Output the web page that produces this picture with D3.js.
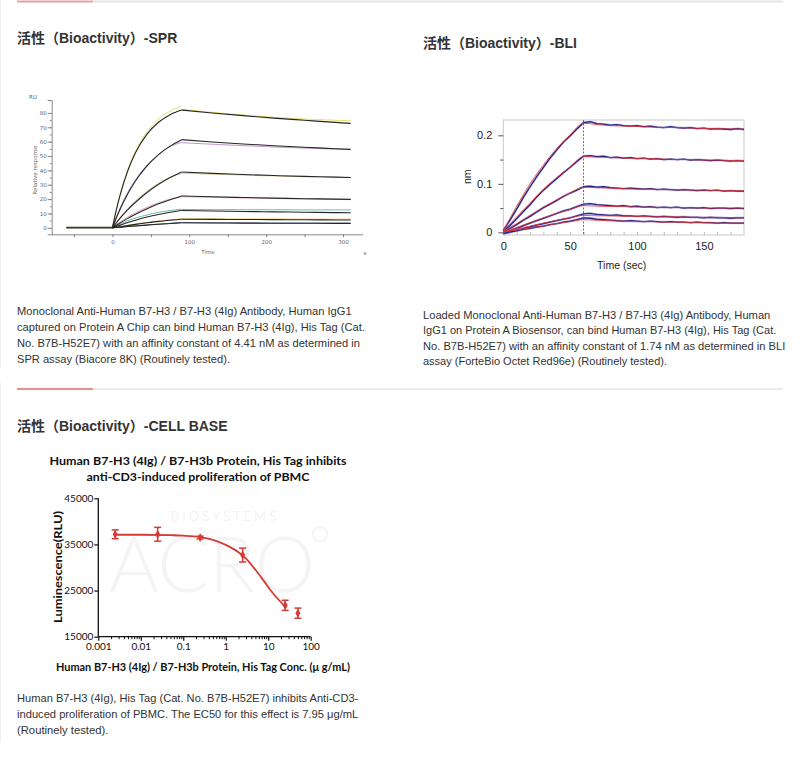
<!DOCTYPE html>
<meta charset="utf-8">
<html>
<head>
  <script src="https://d3js.org/d3.v7.min.js" charset="utf-8"></script>
</head>
<style>
body { margin: 0; background: white; }
.title { font-family: "Liberation Sans", "Noto Sans CJK SC", sans-serif; font-weight: bold; font-size: 14px; fill: #333; }
.desc { font-family: "Liberation Sans", Arial, sans-serif; font-size: 11.3px; fill: #333; }
.spr text { font-family: "DejaVu Sans", sans-serif; font-size: 5.5px; fill: #666; }
.bli text { font-family: "Liberation Sans", Arial, sans-serif; font-size: 11px; fill: #222; }
.cell text { font-family: Lato, "Open Sans", sans-serif; fill: #111; }
.cell text.wm { fill: #f4f4f4; }
</style>
<body>
<div id="container"></div>
<script>

var width = 800, height = 761;

// ---- SPR data (RU) ----
var sprOnTime = [0, 5, 10, 20, 30, 45, 60, 75, 90];
var sprOffTime = [90, 130, 170, 210, 250, 290, 310];
var sprFitOn = [
  [0, 12.3, 22.8, 39.7, 52.2, 65.2, 73.5, 78.8, 82.0],
  [0, 6.8, 13.0, 23.7, 32.6, 43.1, 51.0, 56.9, 61.4],
  [0, 3.4, 6.7, 12.6, 17.8, 24.6, 30.3, 35.0, 38.9],
  [0, 1.8, 3.4, 6.6, 9.5, 13.3, 16.7, 19.6, 22.2],
  [0, 1.0, 1.9, 3.7, 5.3, 7.5, 9.3, 10.8, 12.1],
  [0, 0.4, 0.8, 1.6, 2.4, 3.5, 4.5, 5.3, 6.0],
  [0, 0.2, 0.4, 0.9, 1.3, 1.9, 2.5, 3.0, 3.5]
];
var sprFitOff = [
  [82.0, 80.0, 78.1, 76.4, 74.9, 73.4, 72.7],
  [61.4, 59.8, 58.4, 57.2, 56.1, 55.1, 54.6],
  [38.9, 37.9, 37.1, 36.4, 35.8, 35.3, 35.0],
  [22.2, 21.6, 21.1, 20.7, 20.3, 20.0, 19.8],
  [12.1, 11.7, 11.4, 11.1, 10.9, 10.6, 10.5],
  [6.0, 5.9, 5.8, 5.7, 5.6, 5.5, 5.5],
  [3.5, 3.4, 3.3, 3.2, 3.2, 3.1, 3.1]
];
var sprRawOn = [
  [0.3, 12.8, 23.5, 40.5, 53.5, 66.8, 75.8, 81.2, 85.0],
  [0.3, 7.2, 13.8, 24.8, 33.5, 43.5, 51.0, 56.5, 59.5],
  [0.3, 3.8, 7.3, 13.5, 18.8, 25.5, 31.0, 35.2, 38.0],
  [0.3, 2.2, 4.0, 7.5, 10.5, 14.3, 17.5, 20.0, 21.7],
  [0.3, 1.5, 2.7, 5.0, 6.8, 9.0, 10.8, 12.0, 13.0],
  [0.3, 0.5, 1.0, 1.8, 2.6, 3.7, 4.7, 5.5, 6.2],
  [0.3, 0.3, 0.5, 1.0, 1.4, 2.0, 2.6, 3.1, 3.6]
];
var sprRawOff = [
  [82.5, 80.4, 78.6, 77.0, 75.8, 74.9, 74.5],
  [59.3, 58.2, 57.2, 56.3, 55.5, 54.8, 54.5],
  [38.0, 37.3, 36.7, 36.1, 35.6, 35.2, 35.0],
  [21.7, 21.2, 20.8, 20.4, 20.1, 19.8, 19.6],
  [12.8, 12.7, 12.6, 12.6, 12.5, 12.5, 12.5],
  [6.2, 6.2, 6.1, 6.1, 6.0, 6.0, 6.0],
  [3.6, 3.5, 3.4, 3.3, 3.3, 3.2, 3.2]
];
var sprRawColors = ["#e6dc5a", "#b58cc8", "#d9cc96", "#e59ab9", "#5cb89a", "#e3b64a", "#4f6f96"];
var sprYTicks = [0, 10, 20, 30, 40, 50, 60, 70, 80];
var sprXTicks = [0, 100, 200, 300];

// ---- BLI data (nm) ----
var bliTime = [0, 10, 20, 30, 40, 50, 60, 70, 80, 90, 100, 110, 120, 130, 140, 150, 160, 170, 180];
var bliFit = [
  [0.003, 0.054, 0.100, 0.139, 0.173, 0.201, 0.225, 0.222, 0.220, 0.219, 0.218, 0.217, 0.216, 0.216, 0.215, 0.214, 0.214, 0.213, 0.213],
  [0.003, 0.032, 0.060, 0.089, 0.113, 0.135, 0.156, 0.155, 0.154, 0.153, 0.152, 0.152, 0.151, 0.150, 0.150, 0.149, 0.149, 0.148, 0.148],
  [0.002, 0.018, 0.035, 0.052, 0.067, 0.081, 0.093, 0.092, 0.091, 0.090, 0.089, 0.089, 0.088, 0.088, 0.087, 0.087, 0.086, 0.086, 0.086],
  [0.002, 0.010, 0.020, 0.030, 0.039, 0.047, 0.055, 0.054, 0.053, 0.053, 0.052, 0.052, 0.051, 0.051, 0.051, 0.050, 0.050, 0.050, 0.050],
  [0.001, 0.007, 0.013, 0.019, 0.025, 0.030, 0.035, 0.034, 0.034, 0.033, 0.033, 0.032, 0.032, 0.032, 0.031, 0.031, 0.031, 0.030, 0.030],
  [0.001, 0.005, 0.009, 0.013, 0.018, 0.022, 0.026, 0.025, 0.024, 0.023, 0.022, 0.022, 0.021, 0.021, 0.020, 0.020, 0.019, 0.019, 0.019]
];
var bliRawTime = [0, 5, 10, 15, 20, 25, 30, 35, 40, 45, 50, 55, 60, 65, 70, 75, 80, 85, 90, 95, 100, 105, 110, 115,
                  120, 125, 130, 135, 140, 145, 150, 155, 160, 165, 170, 175, 180];
var bliRaw = [
  [0.004, 0.025, 0.048, 0.072, 0.094, 0.115, 0.134, 0.153, 0.170, 0.186, 0.199, 0.213, 0.226,
   0.228, 0.224, 0.223, 0.221, 0.222, 0.220, 0.219, 0.220, 0.218, 0.219, 0.217, 0.216, 0.218, 0.216, 0.215, 0.216, 0.214, 0.215, 0.213, 0.214, 0.213, 0.212, 0.214, 0.212],
  [0.001, 0.014, 0.028, 0.043, 0.057, 0.073, 0.087, 0.099, 0.111, 0.123, 0.134, 0.146, 0.157,
   0.158, 0.156, 0.157, 0.154, 0.155, 0.153, 0.154, 0.152, 0.153, 0.151, 0.152, 0.150, 0.151, 0.150, 0.151, 0.149, 0.150, 0.149, 0.148, 0.149, 0.148, 0.147, 0.148, 0.147],
  [0.000, 0.008, 0.016, 0.025, 0.033, 0.042, 0.051, 0.058, 0.066, 0.074, 0.081, 0.087, 0.094,
   0.095, 0.093, 0.094, 0.092, 0.091, 0.090, 0.091, 0.090, 0.089, 0.090, 0.088, 0.089, 0.088, 0.087, 0.088, 0.087, 0.086, 0.087, 0.086, 0.087, 0.085, 0.086, 0.085, 0.085],
  [-0.002, 0.003, 0.008, 0.014, 0.019, 0.024, 0.029, 0.034, 0.039, 0.044, 0.048, 0.053, 0.058,
   0.059, 0.057, 0.056, 0.055, 0.054, 0.055, 0.053, 0.054, 0.052, 0.053, 0.051, 0.052, 0.051, 0.052, 0.050, 0.051, 0.050, 0.051, 0.049, 0.050, 0.050, 0.049, 0.050, 0.049],
  [-0.003, 0.000, 0.004, 0.008, 0.011, 0.015, 0.018, 0.021, 0.024, 0.027, 0.030, 0.034, 0.038,
   0.039, 0.037, 0.036, 0.035, 0.036, 0.034, 0.034, 0.033, 0.034, 0.033, 0.032, 0.033, 0.032, 0.031, 0.032, 0.031, 0.031, 0.030, 0.031, 0.030, 0.030, 0.029, 0.030, 0.030],
  [-0.002, 0.001, 0.003, 0.006, 0.008, 0.011, 0.013, 0.016, 0.018, 0.021, 0.023, 0.026, 0.030,
   0.029, 0.027, 0.026, 0.025, 0.024, 0.023, 0.024, 0.023, 0.022, 0.023, 0.022, 0.021, 0.022, 0.021, 0.021, 0.020, 0.021, 0.020, 0.020, 0.019, 0.020, 0.019, 0.019, 0.019]
];
var bliYTicks = [0, 0.1, 0.2];
var bliXTicks = [0, 50, 100, 150];

// ---- Cell based assay ----
var cellDose = [0.0025, 0.025, 0.25, 2.5, 25, 50];
var cellMean = [37200, 37200, 36500, 32700, 21800, 20100];
var cellErr = [950, 1500, 300, 1500, 1100, 1100];
var cellFitDose = [0.0025, 0.01, 0.05, 0.1, 0.25, 0.5, 1, 2, 3, 5, 8, 12, 18, 27];
var cellFitVal = [37100, 37100, 37000, 36900, 36600, 36000, 34900, 33300, 31900, 29500, 27000, 24800, 22900, 21300];
var cellYTicks = [15000, 25000, 35000, 45000];
var cellXTicks = [0.001, 0.01, 0.1, 1, 10, 100];

var svg = d3.select("#container").append("svg")
  .attr("width", width).attr("height", height)
  .style("background", "white");

// page furniture: separators and titles
function separator(y, redColor, w) {
  svg.append("line").attr("x1", 93).attr("x2", 783).attr("y1", y).attr("y2", y)
     .attr("stroke", "#e4e4e4").attr("stroke-width", w);
  svg.append("line").attr("x1", 17).attr("x2", 93).attr("y1", y).attr("y2", y)
     .attr("stroke", redColor).attr("stroke-width", w);
}
separator(1.5, "#e2a2a2", 2);
separator(389, "#e36a6a", 1.3);
svg.append("line").attr("x1", 0.5).attr("x2", 0.5).attr("y1", 0).attr("y2", 368).attr("stroke", "#eeeeee");
svg.append("line").attr("x1", 0.5).attr("x2", 0.5).attr("y1", 383).attr("y2", 743).attr("stroke", "#eeeeee");

svg.append("text").attr("class", "title").attr("x", 17).attr("y", 43).text("活性（Bioactivity）-SPR");
svg.append("text").attr("class", "title").attr("x", 423).attr("y", 48).text("活性（Bioactivity）-BLI");
svg.append("text").attr("class", "title").attr("x", 17).attr("y", 431).text("活性（Bioactivity）-CELL BASE");

// each line gets the width it has in the picture
function paragraph(lines, widths, x, y0, lh) {
  lines.forEach(function(l, i) {
    svg.append("text").attr("class", "desc").attr("x", x).attr("y", y0 + i * lh)
       .attr("textLength", widths[i]).attr("lengthAdjust", "spacingAndGlyphs").text(l);
  });
}
paragraph([
  "Monoclonal Anti-Human B7-H3 / B7-H3 (4Ig) Antibody, Human IgG1",
  "captured on Protein A Chip can bind Human B7-H3 (4Ig), His Tag (Cat.",
  "No. B7B-H52E7) with an affinity constant of 4.41 nM as determined in",
  "SPR assay (Biacore 8K) (Routinely tested)."
], [334.7, 348, 343, 213], 17, 315, 15.9);
paragraph([
  "Loaded Monoclonal Anti-Human B7-H3 / B7-H3 (4Ig) Antibody, Human",
  "IgG1 on Protein A Biosensor, can bind Human B7-H3 (4Ig), His Tag (Cat.",
  "No. B7B-H52E7) with an affinity constant of 1.74 nM as determined in BLI",
  "assay (ForteBio Octet Red96e) (Routinely tested)."
], [347.3, 353.3, 362.3, 244], 423, 318.5, 15.6);
paragraph([
  "Human B7-H3 (4Ig), His Tag (Cat. No. B7B-H52E7) inhibits Anti-CD3-",
  "induced proliferation of PBMC. The EC50 for this effect is 7.95 μg/mL",
  "(Routinely tested)."
], [341.3, 341.3, 91.3], 17, 702, 16);

// ================= SPR =================
var spr = svg.append("g").attr("class", "spr");
var sx = d3.scaleLinear().domain([-79, 326]).range([51.7, 363]);
var sy = d3.scaleLinear().domain([-4.5, 89]).range([234.3, 100]);

spr.append("g").attr("transform", "translate(51.7,0)")
   .call(d3.axisLeft(sy).tickValues(d3.range(0, 85, 5)).tickSize(2).tickFormat(""))
   .call(function(g) { g.select(".domain").remove(); g.selectAll("line").attr("stroke", "#888"); });
spr.append("g").attr("transform", "translate(51.7,0)")
   .call(d3.axisLeft(sy).tickValues(sprYTicks).tickSize(4).tickPadding(1))
   .call(function(g) {
     g.select(".domain").attr("stroke", "#888");
     g.selectAll("line").attr("stroke", "#888");
     g.selectAll("text").attr("fill", "#666").style("font-size", "5.5px");
   });
spr.append("g").attr("transform", "translate(0,234.3)")
   .call(d3.axisBottom(sx).tickValues([-50, 50, 150, 250]).tickSize(3).tickFormat(""))
   .call(function(g) { g.select(".domain").remove(); g.selectAll("line").attr("stroke", "#888"); });
spr.append("g").attr("transform", "translate(0,234.3)")
   .call(d3.axisBottom(sx).tickValues(sprXTicks).tickSize(3).tickPadding(3))
   .call(function(g) {
     g.select(".domain").attr("stroke", "#888").attr("d", "M51.7,0.5H363");
     g.selectAll("line").attr("stroke", "#888");
     g.selectAll("text").attr("fill", "#666").style("font-size", "5.5px");
   });
spr.append("text").attr("x", 33).attr("y", 99).attr("text-anchor", "middle").text("RU");
spr.append("text").attr("x", 208).attr("y", 254).attr("text-anchor", "middle").text("Time");
spr.append("text").attr("x", 365).attr("y", 255).attr("text-anchor", "middle").text("s");
spr.append("text").attr("transform", "translate(37,170) rotate(-90)").attr("text-anchor", "middle").text("Relative response");

function sprLine(times) {
  return d3.line().x(function(d, i) { return sx(times[i]); }).y(function(d) { return sy(d); }).curve(d3.curveMonotoneX);
}
var baseLine = d3.line().x(function(d) { return sx(d[0]); }).y(function(d) { return sy(d[1]); });

// coloured response curves
sprRawOn.forEach(function(s, i) {
  spr.append("path").attr("d", baseLine([[-60, 0.3], [0, 0.3]])).attr("fill", "none").attr("stroke", sprRawColors[i]).attr("stroke-width", 0.9);
  spr.append("path").attr("d", sprLine(sprOnTime)(s)).attr("fill", "none").attr("stroke", sprRawColors[i]).attr("stroke-width", 0.9);
  spr.append("path").attr("d", sprLine(sprOffTime)(sprRawOff[i])).attr("fill", "none").attr("stroke", sprRawColors[i]).attr("stroke-width", 0.9);
});
// black fitted curves
sprFitOn.forEach(function(s, i) {
  spr.append("path").attr("d", sprLine(sprOnTime)(s)).attr("fill", "none").attr("stroke", "#262626").attr("stroke-width", 1.1);
  spr.append("path").attr("d", sprLine(sprOffTime)(sprFitOff[i])).attr("fill", "none").attr("stroke", "#262626").attr("stroke-width", 1.1);
});
spr.append("path").attr("d", baseLine([[-60, 0], [0, 0]])).attr("fill", "none").attr("stroke", "#222").attr("stroke-width", 1.4);

// ================= BLI =================
var bli = svg.append("g").attr("class", "bli");
var bx = d3.scaleLinear().domain([0, 180]).range([503.3, 744]);
var by = d3.scaleLinear().domain([-0.0055, 0.2316]).range([235, 120]);

bli.append("rect").attr("x", 503.3).attr("y", 120).attr("width", 744 - 503.3).attr("height", 115)
   .attr("fill", "none").attr("stroke", "#c8c8c8");
bli.append("g").attr("transform", "translate(503.3,0)")
   .call(d3.axisLeft(by).tickValues([0.05, 0.15]).tickSize(3).tickFormat(""))
   .call(function(g) { g.select(".domain").remove(); g.selectAll("line").attr("stroke", "#555"); });
bli.append("g").attr("transform", "translate(503.3,0)")
   .call(d3.axisLeft(by).tickValues(bliYTicks).tickSize(5).tickPadding(6).tickFormat(function(d) { return d === 0 ? "0" : d3.format(".1f")(d); }))
   .call(function(g) {
     g.select(".domain").remove();
     g.selectAll("line").attr("stroke", "#555");
     g.selectAll("text").attr("fill", "#222").style("font-size", "11px");
   });
bli.append("g").attr("transform", "translate(0,235)")
   .call(d3.axisTop(bx).tickValues(d3.range(10, 180, 10)).tickSize(3).tickFormat(""))
   .call(function(g) { g.select(".domain").remove(); g.selectAll("line").attr("stroke", "#bbb"); });
bli.append("g").attr("transform", "translate(0,235)")
   .call(d3.axisBottom(bx).tickValues(bliXTicks).tickSize(0).tickPadding(7))
   .call(function(g) {
     g.select(".domain").remove();
     g.selectAll("text").attr("fill", "#222").style("font-size", "11px");
   });
bli.append("text").attr("x", 621.7).attr("y", 269).attr("text-anchor", "middle").style("font-size", "10.5px").text("Time (sec)");
bli.append("text").attr("transform", "translate(471,176.7) rotate(-90)").attr("text-anchor", "middle").style("font-size", "10.5px").text("nm");

var bliRawLine = d3.line().x(function(d, i) { return bx(bliRawTime[i]); }).y(function(d) { return by(d); });
var bliFitLine = d3.line().x(function(d, i) { return bx(bliTime[i]); }).y(function(d) { return by(d); }).curve(d3.curveMonotoneX);
bliRaw.forEach(function(s) {
  bli.append("path").attr("d", bliRawLine(s)).attr("fill", "none").attr("stroke", "#a89ad8").attr("stroke-width", 2.4).attr("opacity", 0.55);
  bli.append("path").attr("d", bliRawLine(s)).attr("fill", "none").attr("stroke", "#22228a").attr("stroke-width", 1.3);
});
bliFit.forEach(function(s) {
  bli.append("path").attr("d", bliFitLine(s)).attr("fill", "none").attr("stroke", "#e8332c").attr("stroke-width", 0.8);
});
bli.append("line").attr("x1", bx(60)).attr("x2", bx(60)).attr("y1", 120).attr("y2", 235)
   .attr("stroke", "#c8302a").attr("stroke-width", 0.9).attr("stroke-dasharray", "2,1.5");

// ================= CELL BASE =================
var cell = svg.append("g").attr("class", "cell");
var cx = d3.scaleLog().domain([0.001, 100]).range([98.3, 310.7]);
var cy = d3.scaleLinear().domain([15000, 45000]).range([636.7, 498.3]);

// faint watermark
cell.append("text").attr("class", "wm").attr("x", 225).attr("y", 521).attr("text-anchor", "middle")
    .style("font-size", "13px").style("letter-spacing", "3px").text("BIOSYSTEMS");
cell.append("text").attr("class", "wm").attr("x", 212).attr("y", 592).attr("text-anchor", "middle")
    .style("font-size", "76px").style("font-weight", "300").text("ACRO");
cell.append("circle").attr("cx", 320).attr("cy", 534).attr("r", 7).attr("fill", "none").attr("stroke", "#f4f4f4").attr("stroke-width", 2);

cell.append("text").attr("x", 198).attr("y", 465).attr("text-anchor", "middle")
    .style("font-size", "12px").style("font-weight", "bold")
    .attr("textLength", 297).attr("lengthAdjust", "spacingAndGlyphs")
    .text("Human B7-H3 (4Ig) / B7-H3b Protein, His Tag  inhibits");
cell.append("text").attr("x", 198).attr("y", 480.5).attr("text-anchor", "middle")
    .style("font-size", "12px").style("font-weight", "bold")
    .attr("textLength", 223).attr("lengthAdjust", "spacingAndGlyphs")
    .text("anti-CD3-induced proliferation of PBMC");

cell.append("g").attr("transform", "translate(98.3,0)")
    .call(d3.axisLeft(cy).tickValues(cellYTicks).tickSize(4).tickPadding(1).tickFormat(d3.format("d")))
    .call(function(g) {
      g.select(".domain").attr("stroke", "#111").attr("stroke-width", 1.3).attr("d", "M0,498.3V636.7");
      g.selectAll("line").attr("stroke", "#111").attr("stroke-width", 1.2);
      g.selectAll("text").attr("fill", "#111").style("font-size", "10px");
    });
var minor = [];
[0.001, 0.01, 0.1, 1, 10].forEach(function(dec) { d3.range(2, 10).forEach(function(k) { minor.push(dec * k); }); });
cell.append("g").attr("transform", "translate(0,636.7)")
    .call(d3.axisBottom(cx).tickValues(minor).tickSize(2.5).tickFormat(""))
    .call(function(g) { g.select(".domain").remove(); g.selectAll("line").attr("stroke", "#111"); });
cell.append("g").attr("transform", "translate(0,636.7)")
    .call(d3.axisBottom(cx).tickValues(cellXTicks).tickSize(4).tickPadding(2).tickFormat(function(d) { return String(d); }))
    .call(function(g) {
      g.select(".domain").attr("stroke", "#111").attr("stroke-width", 1.3).attr("d", "M98.3,0H310.7");
      g.selectAll("line").attr("stroke", "#111").attr("stroke-width", 1.2);
      g.selectAll("text").attr("fill", "#111").style("font-size", "10px");
    });
cell.append("text").attr("x", 203).attr("y", 671).attr("text-anchor", "middle")
    .style("font-size", "11.5px").style("font-weight", "bold")
    .attr("textLength", 294).attr("lengthAdjust", "spacingAndGlyphs")
    .text("Human B7-H3 (4Ig) / B7-H3b Protein, His Tag Conc. (μ g/mL)");
cell.append("text").attr("transform", "translate(61.5,567) rotate(-90)").attr("text-anchor", "middle")
    .style("font-size", "11.5px").style("font-weight", "bold")
    .attr("textLength", 112).attr("lengthAdjust", "spacingAndGlyphs")
    .text("Luminescence(RLU)");

var red = "#d63a35";
cell.append("path")
    .attr("d", d3.line().x(function(d, i) { return cx(cellFitDose[i]); }).y(function(d) { return cy(d); }).curve(d3.curveMonotoneX)(cellFitVal))
    .attr("fill", "none").attr("stroke", red).attr("stroke-width", 1.8);
cellDose.forEach(function(d, i) {
  var px = cx(d), top = cy(cellMean[i] + cellErr[i]), bot = cy(cellMean[i] - cellErr[i]);
  cell.append("line").attr("x1", px).attr("x2", px).attr("y1", top).attr("y2", bot).attr("stroke", red).attr("stroke-width", 1.5);
  cell.append("line").attr("x1", px - 3.5).attr("x2", px + 3.5).attr("y1", top).attr("y2", top).attr("stroke", red).attr("stroke-width", 1.5);
  cell.append("line").attr("x1", px - 3.5).attr("x2", px + 3.5).attr("y1", bot).attr("y2", bot).attr("stroke", red).attr("stroke-width", 1.5);
  cell.append("path").attr("transform", "translate(" + px + "," + cy(cellMean[i]) + ")")
      .attr("d", d3.symbol().type(d3.symbolDiamond).size(22)()).attr("fill", red);
});

</script>
</body>
</html>
